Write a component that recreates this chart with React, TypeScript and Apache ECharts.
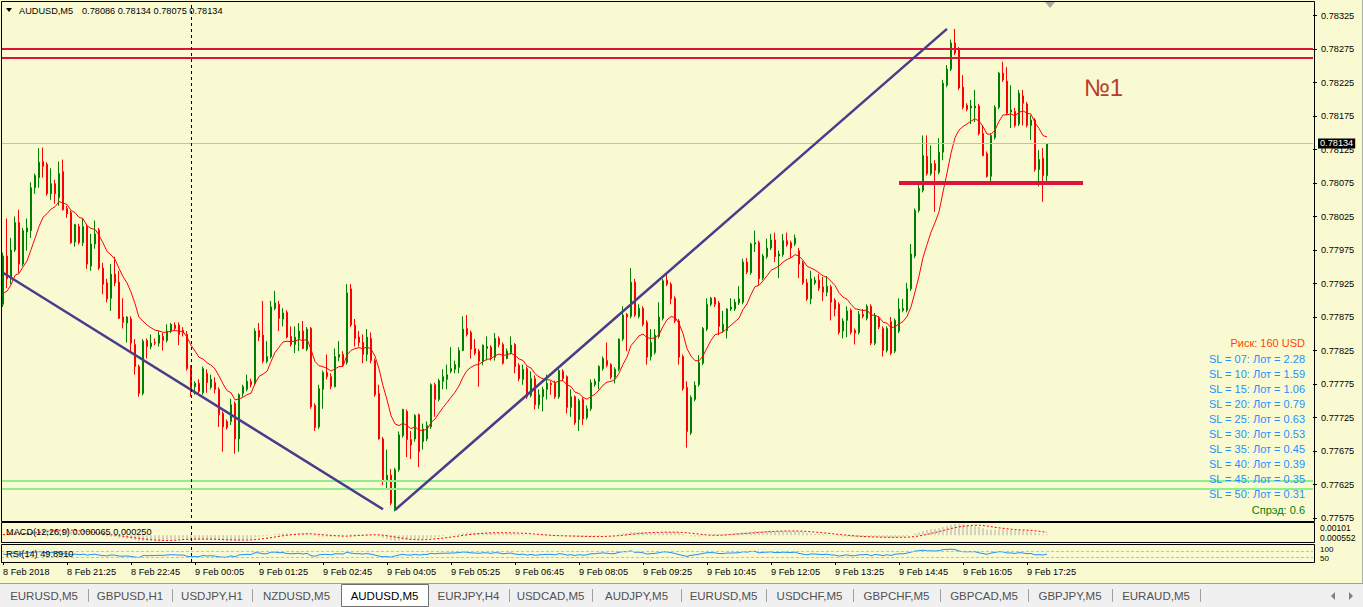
import React, { useEffect, useRef } from "react";
import * as echarts from "echarts";

// ---------- DATA (prices in points, 1 point = 0.00001) ----------
const POINT = 1e5;
const OPEN = [77894,77966,77932,77975,78016,77954,78002,78004,78068,78083,78107,78103,78059,78074,78053,78092,78037,78031,77987,78010,77986,78010,77951,77984,78005,77948,77926,77903,77939,77927,77875,77866,77872,77834,77801,77761,77840,77831,77837,77836,77846,77840,77854,77863,77863,77855,77849,77800,77771,77776,77762,77791,77770,77777,77767,77731,77719,77719,77746,77693,77761,77767,77779,77776,77855,77848,77809,77816,77888,77894,77872,77882,77846,77834,77843,77854,77827,77858,77743,77711,77767,77792,77786,77771,77815,77819,77807,77917,77863,77845,77837,77819,77843,77810,77761,77693,77632,77639,77587,77647,77698,77734,77692,77693,77729,77689,77693,77711,77774,77752,77779,77782,77794,77797,77800,77825,77858,77852,77828,77824,77809,77828,77830,77815,77843,77834,77813,77822,77834,77803,77782,77798,77758,77783,77744,77756,77767,77776,77776,77756,77794,77786,77740,77756,77722,77752,77725,77738,77774,77779,77798,77810,77804,77785,77797,77842,77879,77876,77927,77876,77888,77867,77816,77822,77846,77873,77930,77924,77903,77869,77816,77770,77702,77752,77774,77806,77857,77894,77903,77896,77855,77855,77887,77887,77896,77897,77957,77941,77984,77986,77933,77965,77978,77990,77966,77968,77989,77986,77984,77974,77956,77926,77902,77926,77930,77920,77912,77920,77900,77894,77854,77870,77885,77855,77852,77879,77873,77891,77836,77873,77858,77825,77868,77824,77854,77885,77885,77917,77966,78034,78064,78115,78089,78104,78091,78121,78221,78245,78284,78275,78218,78191,78187,78187,78190,78149,78119,78085,78143,78188,78239,78227,78181,78182,78163,78205,78193,78161,78169,78095,78112,78086];
const HIGH = [77971,78022,77993,78025,78035,78008,78022,78076,78089,78127,78128,78106,78097,78080,78107,78110,78041,78034,78014,78014,78023,78013,77999,78019,78008,77956,77932,77954,77965,77944,77903,77876,77876,77842,77804,77842,77843,77849,77843,77854,77851,77864,77866,77867,77867,77860,77854,77803,77779,77782,77801,77797,77789,77785,77770,77734,77722,77753,77749,77761,77774,77789,77783,77858,77866,77899,77839,77899,77914,77899,77888,77885,77861,77861,77866,77869,77860,77860,77746,77774,77795,77819,77791,77828,77839,77824,77924,77924,77872,77854,77849,77857,77852,77813,77774,77696,77677,77648,77650,77704,77738,77737,77705,77730,77731,77716,77719,77776,77777,77783,77797,77804,77830,77810,77830,77876,77878,77855,77842,77827,77834,77846,77833,77851,77846,77837,77828,77846,77836,77806,77804,77801,77794,77788,77767,77771,77789,77779,77780,77797,77797,77788,77767,77758,77753,77755,77743,77782,77783,77803,77816,77837,77806,77800,77843,77891,77881,77948,77932,77894,77891,77870,77857,77857,77897,77932,77941,77927,77906,77872,77819,77779,77758,77779,77818,77860,77903,77905,77905,77899,77884,77888,77903,77902,77921,77962,77963,77986,78004,77989,77969,77992,77999,78001,77974,77999,78001,77989,77998,77978,77959,77932,77944,77935,77939,77935,77936,77923,77903,77897,77873,77891,77888,77858,77884,77887,77894,77894,77881,77876,77861,77861,77875,77873,77903,77902,77926,77984,78037,78076,78146,78146,78131,78109,78142,78229,78251,78289,78305,78278,78236,78194,78199,78214,78193,78161,78122,78149,78191,78241,78256,78248,78221,78187,78214,78214,78196,78176,78172,78124,78127,78134];
const LOW = [77890,77918,77924,77972,77941,77951,77974,77993,78059,78068,78083,78056,78050,78044,78041,78034,78023,77984,77980,77983,77981,77947,77944,77977,77945,77909,77897,77884,77921,77872,77858,77837,77824,77789,77756,77758,77813,77827,77833,77831,77825,77837,77851,77855,77833,77846,77795,77756,77759,77761,77759,77762,77767,77761,77711,77674,77707,77714,77671,77674,77756,77764,77770,77773,77839,77806,77806,77813,77885,77854,77861,77843,77831,77821,77824,77827,77824,77738,77705,77708,77738,77782,77767,77770,77809,77801,77804,77860,77831,77831,77806,77809,77806,77756,77692,77624,77617,77594,77585,77644,77695,77666,77663,77689,77651,77677,77690,77708,77726,77749,77767,77767,77791,77791,77791,77824,77846,77813,77818,77771,77803,77810,77810,77810,77830,77804,77812,77819,77791,77779,77774,77753,77755,77737,77738,77734,77752,77759,77753,77753,77779,77731,77726,77714,77705,77714,77722,77735,77771,77767,77795,77800,77782,77776,77794,77839,77824,77873,77875,77873,77861,77804,77810,77819,77843,77870,77921,77894,77866,77804,77765,77680,77699,77749,77771,77803,77854,77891,77890,77848,77852,77843,77884,77884,77893,77894,77939,77938,77972,77923,77930,77962,77975,77957,77933,77965,77980,77963,77981,77933,77923,77899,77894,77923,77914,77899,77906,77870,77876,77849,77843,77845,77849,77834,77849,77873,77870,77833,77833,77857,77816,77822,77818,77821,77851,77882,77882,77914,77963,78031,78061,78086,78086,78032,78088,78109,78218,78242,78266,78214,78185,78182,78163,78166,78146,78115,78083,78074,78140,78185,78226,78176,78157,78158,78160,78161,78158,78139,78092,78070,78047,78075];
const CLOSE = [77966,77932,77975,78016,77954,78004,78008,78068,78086,78106,78100,78059,78074,78059,78089,78035,78029,77986,78013,77986,78010,77954,77984,77999,77948,77924,77902,77939,77926,77873,77867,77875,77836,77801,77761,77839,77831,77836,77836,77848,77840,77854,77864,77858,77849,77851,77798,77767,77776,77764,77798,77777,77782,77767,77729,77711,77710,77744,77693,77759,77771,77779,77774,77854,77845,77809,77816,77890,77896,77873,77881,77845,77834,77845,77854,77828,77857,77741,77710,77768,77792,77786,77771,77816,77819,77804,77911,77863,77843,77837,77819,77845,77810,77759,77693,77632,77639,77597,77647,77699,77737,77692,77684,77728,77674,77708,77713,77774,77752,77780,77786,77789,77798,77804,77825,77857,77849,77827,77821,77809,77833,77831,77815,77843,77834,77806,77824,77833,77801,77783,77797,77756,77783,77744,77759,77767,77776,77774,77756,77795,77783,77740,77756,77717,77750,77723,77738,77777,77779,77801,77813,77803,77785,77797,77842,77878,77875,77927,77878,77888,77864,77815,77837,77848,77875,77929,77924,77902,77869,77815,77768,77704,77755,77773,77807,77858,77894,77903,77894,77861,77864,77887,77890,77897,77902,77957,77942,77984,77986,77932,77966,77978,77990,77965,77969,77989,77983,77978,77993,77954,77926,77902,77932,77930,77918,77912,77921,77897,77887,77852,77869,77884,77852,77851,77879,77876,77891,77836,77876,77860,77825,77858,77821,77870,77887,77888,77917,77969,78034,78067,78116,78089,78104,78094,78121,78224,78245,78284,78269,78217,78188,78185,78190,78190,78149,78116,78085,78146,78188,78239,78229,78179,78184,78161,78209,78194,78161,78169,78095,78110,78086,78134];

const TOTAL_SLOTS = 328; // bars + empty shift area on the right
const TICK_EVERY = 16;
const TIME_TICK_LABELS = ["8 Feb 2018","8 Feb 21:25","8 Feb 22:45","9 Feb 00:05","9 Feb 01:25","9 Feb 02:45","9 Feb 04:05","9 Feb 05:25","9 Feb 06:45","9 Feb 08:05","9 Feb 09:25","9 Feb 10:45","9 Feb 12:05","9 Feb 13:25","9 Feb 14:45","9 Feb 16:05","9 Feb 17:25"];

const MA_PERIOD = 12;
const MA_SEED = 0.779;
const MACD_SLOW_SEED = 0.779;
const RSI_SEED = 0.00012;

const DOWN_TREND: [number, number][] = [[0, 0.77941], [95, 0.77588]];
const UP_TREND: [number, number][] = [[98, 0.77587], [236, 0.78305]];
const RED_LEVELS = [0.78276, 0.78262];
const SUPPORT = { from: 224, to: 270, price: 0.78075 };
const GREEN_LEVELS = [0.77631, 0.77619];
const BID = 0.78134;
const SEPARATOR_INDEX = 47;

const HEADER_SYMBOL = "AUDUSD,M5";
const HEADER_OHLC = "0.78086 0.78134 0.78075 0.78134";
const MACD_TITLE = "MACD(12,26,9) 0.000065 0.000250";
const RSI_TITLE = "RSI(14) 49.8910";
const MACD_SCALE_LABELS = ["0.00101", "0.000552"];
const RSI_SCALE_LABELS = ["100", "50"];
const RISK_TEXT = "Риск: 160 USD";
const SL_VALUES = ["07", "10", "15", "20", "25", "30", "35", "40", "45", "50"];
const LOT_VALUES = ["2.28", "1.59", "1.06", "0.79", "0.63", "0.53", "0.45", "0.39", "0.35", "0.31"];
const SPREAD_TEXT = "Спрэд: 0.6";
const TABS = ["EURUSD,M5","GBPUSD,H1","USDJPY,H1","NZDUSD,M5","AUDUSD,M5","EURJPY,H4","USDCAD,M5","AUDJPY,M5","EURUSD,M5","USDCHF,M5","GBPCHF,M5","GBPCAD,M5","GBPJPY,M5","EURAUD,M5"];
const ACTIVE_TAB = 4;

// ---------- layout / style ----------
const BG = "#FAFAD2";
const FONT = '"Liberation Sans", Arial, sans-serif';
const TAB_EDGES = [0, 88, 172, 252, 341, 428, 509, 592, 681, 766, 853, 940, 1028, 1112, 1200];

function ema(vals: number[], period: number, seed: number) {
  const k = 2 / (period + 1);
  let prev = seed;
  return vals.map((v) => (prev = prev + k * (v - prev)));
}

export default function App() {
  const ref = useRef<HTMLDivElement>(null);
  useEffect(() => {
    document.body.style.margin = "0";
    const chart = echarts.init(ref.current!, undefined, { renderer: "svg" });

    const closes = CLOSE.map((v) => v / POINT);
    const candles = OPEN.map((o, i) => [o / POINT, CLOSE[i] / POINT, LOW[i] / POINT, HIGH[i] / POINT]);
    const ma = ema(closes, MA_PERIOD, MA_SEED);
    const slow = ema(closes, 26, MACD_SLOW_SEED);
    const macd = ma.map((v, i) => v - slow[i]);
    const signal = macd.map((_, i) => {
      const w = macd.slice(Math.max(0, i - 8), i + 1);
      return w.reduce((a, b) => a + b, 0) / w.length;
    });
    let ag = RSI_SEED, al = RSI_SEED;
    const rsi = closes.map((c, i) => {
      if (i > 0) {
        const d = c - closes[i - 1];
        ag = (ag * 13 + Math.max(d, 0)) / 14;
        al = (al * 13 + Math.max(-d, 0)) / 14;
      }
      return 100 - 100 / (1 + ag / al);
    });

    const cats = Array.from({ length: TOTAL_SLOTS }, (_, i) => String(i));
    const tickShown = (idx: number) => idx % TICK_EVERY === 0 && idx / TICK_EVERY < TIME_TICK_LABELS.length;

    const sepLine = { xAxis: SEPARATOR_INDEX, lineStyle: { color: "#000", type: [3, 3], width: 1 } };
    const xAxisBase = (gi: number) => ({
      type: "category", gridIndex: gi, data: cats, boundaryGap: true,
      axisLine: { show: false }, axisTick: { show: false }, axisLabel: { show: false }, splitLine: { show: false },
    });

    const txt = (text: string, x: number, y: number, fill: string, size: number, align = "left") => ({
      type: "text", x, y, z: 100, silent: true,
      style: { text, fill, fontSize: size, fontFamily: FONT, align, verticalAlign: "middle" },
    });

    const graphics: any[] = [];
    // frames
    graphics.push({ type: "rect", z: 90, silent: true, shape: { x: 1.5, y: 1.5, width: 1313, height: 520 }, style: { fill: "none", stroke: "#000", lineWidth: 1 } });
    graphics.push({ type: "rect", z: 90, silent: true, shape: { x: 1.5, y: 522.5, width: 1313, height: 20 }, style: { fill: "none", stroke: "#000", lineWidth: 1 } });
    graphics.push({ type: "rect", z: 90, silent: true, shape: { x: 1.5, y: 544.5, width: 1313, height: 18 }, style: { fill: "none", stroke: "#000", lineWidth: 1 } });
    graphics.push({ type: "line", z: 90, silent: true, shape: { x1: 1362.5, y1: 0, x2: 1362.5, y2: 583 }, style: { stroke: "#B0B0B0", lineWidth: 1 } });
    // header
    graphics.push({ type: "polygon", z: 100, silent: true, shape: { points: [[6, 8], [12, 8], [9, 12]] }, style: { fill: "#000" } });
    graphics.push(txt(HEADER_SYMBOL, 19, 10.5, "#000", 9.2));
    graphics.push(txt(HEADER_OHLC, 82, 10.5, "#000", 9.2));
    // shift marker
    graphics.push({ type: "polygon", z: 100, silent: true, shape: { points: [[1045, 2], [1055, 2], [1050, 8]] }, style: { fill: "#A8A8A8" } });
    // №1
    graphics.push(txt("№1", 1084, 87, "#B83A2E", 24));
    // info block
    graphics.push(txt(RISK_TEXT, 1305, 343, "#FF4500", 11, "right"));
    SL_VALUES.forEach((sl, k) => graphics.push(txt(`SL = ${sl}: Лот = ${LOT_VALUES[k]}`, 1305, 358.5 + k * 15.1, "#1E90FF", 11, "right")));
    graphics.push(txt(SPREAD_TEXT, 1305, 509.5, "#008000", 11, "right"));
    // indicator titles & scale labels
    graphics.push(txt(MACD_TITLE, 6, 531.5, "#000", 9.2));
    graphics.push(txt(RSI_TITLE, 6, 553.5, "#000", 9.2));
    graphics.push(txt(MACD_SCALE_LABELS[0], 1320, 527.5, "#000", 8.5));
    graphics.push(txt(MACD_SCALE_LABELS[1], 1320, 538, "#000", 8.5));
    graphics.push(txt(RSI_SCALE_LABELS[0], 1320, 549, "#000", 8));
    graphics.push(txt(RSI_SCALE_LABELS[1], 1320, 558.5, "#000", 8));
    // tab bar
    graphics.push({ type: "rect", z: 95, silent: true, shape: { x: 0, y: 583, width: 1363, height: 24 }, style: { fill: "#F0F0F0" } });
    graphics.push({ type: "line", z: 96, silent: true, shape: { x1: 0, y1: 583.5, x2: 1363, y2: 583.5 }, style: { stroke: "#A0A0A0", lineWidth: 1 } });
    graphics.push({ type: "rect", z: 96, silent: true, shape: { x: TAB_EDGES[ACTIVE_TAB] + 0.5, y: 584.5, width: TAB_EDGES[ACTIVE_TAB + 1] - TAB_EDGES[ACTIVE_TAB], height: 22 }, style: { fill: "#FFFFFF", stroke: "#707070", lineWidth: 1 } });
    TAB_EDGES.forEach((x, k) => {
      if (k === 0 || k === ACTIVE_TAB || k === ACTIVE_TAB + 1) return;
      graphics.push({ type: "line", z: 96, silent: true, shape: { x1: x + 0.5, y1: 589, x2: x + 0.5, y2: 602 }, style: { stroke: "#A0A0A0", lineWidth: 1 } });
    });
    graphics.push({ type: "line", z: 96, silent: true, shape: { x1: 1200.5, y1: 589, x2: 1200.5, y2: 602 }, style: { stroke: "#A0A0A0", lineWidth: 1 } });
    TABS.forEach((name, k) => {
      const cx = (TAB_EDGES[k] + TAB_EDGES[k + 1]) / 2;
      graphics.push(txt(name, cx, 596, k === ACTIVE_TAB ? "#000" : "#505050", 11.5, "center"));
    });
    graphics.push({ type: "polygon", z: 100, silent: true, shape: { points: [[1335, 592], [1335, 600], [1331, 596]] }, style: { fill: "#808080" } });
    graphics.push({ type: "polygon", z: 100, silent: true, shape: { points: [[1349, 592], [1349, 600], [1353, 596]] }, style: { fill: "#808080" } });

    const hLine = (p: number, color: string, width: number) => ({ yAxis: p, lineStyle: { color, width, type: "solid" } });

    const option: any = {
      animation: false,
      backgroundColor: BG,
      grid: [
        { left: 1, top: 3, width: 1312, height: 515 },
        { left: 1, top: 524, width: 1312, height: 17 },
        { left: 1, top: 546, width: 1312, height: 16 },
      ],
      xAxis: [
        xAxisBase(0),
        xAxisBase(1),
        {
          ...xAxisBase(2),
          axisTick: { show: true, alignWithLabel: true, interval: tickShown, length: 3, lineStyle: { color: "#000" } },
          axisLabel: {
            show: true, interval: tickShown, align: "left", margin: 5, color: "#000", fontSize: 9.2, fontFamily: FONT,
            formatter: (_v: string, idx: number) => TIME_TICK_LABELS[idx / TICK_EVERY] ?? "",
          },
        },
      ],
      yAxis: [
        {
          type: "value", gridIndex: 0, position: "right", min: 0.77575, max: 0.783437, interval: 0.0005,
          axisLine: { show: false }, splitLine: { show: false },
          axisTick: { show: true, length: 4, lineStyle: { color: "#000" } },
          axisLabel: { margin: 8, color: "#000", fontSize: 9.2, fontFamily: FONT, showMaxLabel: false, formatter: (v: number) => v.toFixed(5) },
        },
        { type: "value", gridIndex: 1, show: false, min: (v: any) => v.min, max: (v: any) => v.max },
        { type: "value", gridIndex: 2, show: false, min: 0, max: 100 },
      ],
      series: [
        {
          type: "candlestick", xAxisIndex: 0, yAxisIndex: 0, data: candles, barWidth: 2, silent: true,
          itemStyle: { color: "#008000", color0: "#FF0000", borderColor: "#008000", borderColor0: "#FF0000", borderWidth: 1 },
        },
        {
          type: "line", xAxisIndex: 0, yAxisIndex: 0, data: ma, symbol: "none", silent: true,
          lineStyle: { color: "#FF0000", width: 1 },
          markLine: {
            silent: true, symbol: ["none", "none"], animation: false, label: { show: false }, precision: 5,
            data: [
              ...GREEN_LEVELS.map((p) => hLine(p, "#90EE90", 2)),
              {
                ...hLine(BID, "#C0C0C0", 1),
                label: { show: true, position: "end", distance: 5, formatter: BID.toFixed(5), color: "#FFF", backgroundColor: "#000", padding: [1, 2, 0, 2], fontSize: 9.2, fontFamily: FONT },
              },
              ...RED_LEVELS.map((p) => hLine(p, "#DC143C", 2)),
              [{ coord: [SUPPORT.from, SUPPORT.price], lineStyle: { color: "#DC143C", width: 4, type: "solid" } }, { coord: [SUPPORT.to, SUPPORT.price] }],
              [{ coord: DOWN_TREND[0], lineStyle: { color: "#483D8B", width: 2.5, type: "solid" } }, { coord: DOWN_TREND[1] }],
              [{ coord: UP_TREND[0], lineStyle: { color: "#483D8B", width: 2.5, type: "solid" } }, { coord: UP_TREND[1] }],
              sepLine,
            ],
          },
        },
        {
          type: "bar", xAxisIndex: 1, yAxisIndex: 1, data: macd, barWidth: 1, silent: true,
          itemStyle: { color: "#A9A9A9" },
          markLine: { silent: true, symbol: ["none", "none"], label: { show: false }, data: [sepLine] },
        },
        {
          type: "line", xAxisIndex: 1, yAxisIndex: 1, data: signal, symbol: "none", silent: true,
          lineStyle: { color: "#FF0000", width: 1, type: [2, 2] },
        },
        {
          type: "line", xAxisIndex: 2, yAxisIndex: 2, data: rsi, symbol: "none", silent: true,
          lineStyle: { color: "#1E90FF", width: 1 },
          markLine: {
            silent: true, symbol: ["none", "none"], label: { show: false },
            data: [
              { yAxis: 30, lineStyle: { color: "#C0C0C0", type: [3, 2], width: 1 } },
              { yAxis: 70, lineStyle: { color: "#C0C0C0", type: [3, 2], width: 1 } },
              sepLine,
            ],
          },
        },
      ],
      graphic: graphics,
    };
    chart.setOption(option);
    return () => chart.dispose();
  }, []);
  return <div ref={ref} style={{ width: 1363, height: 607, background: BG }} />;
}
